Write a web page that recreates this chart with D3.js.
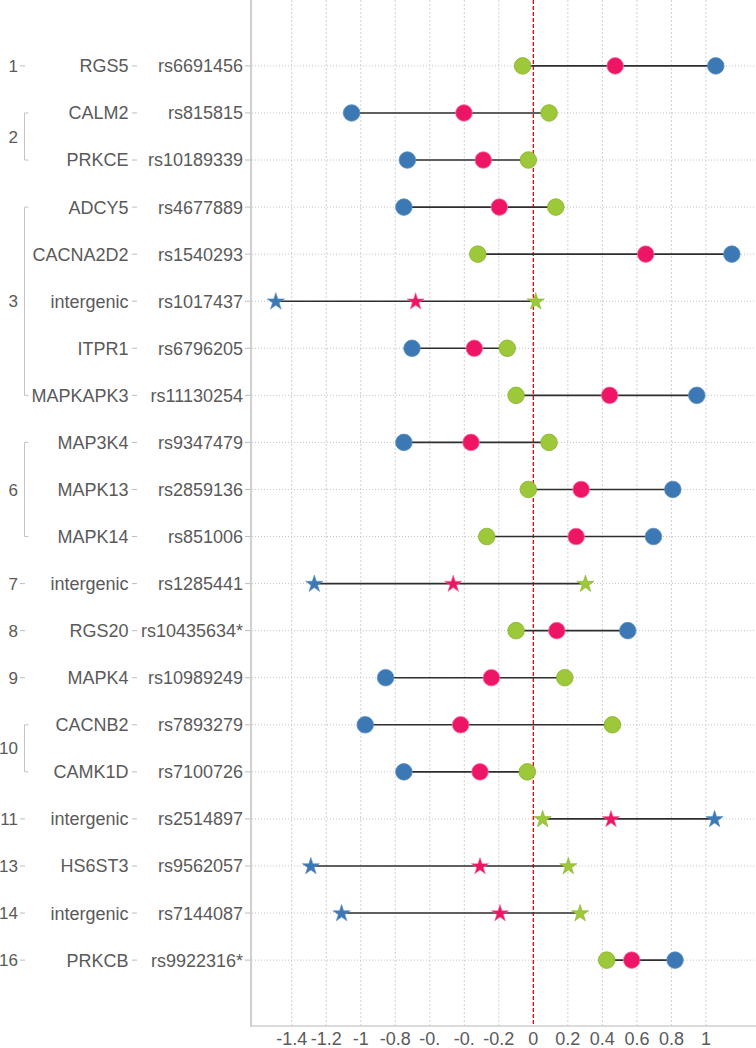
<!DOCTYPE html>
<html>
<head>
<meta charset="utf-8">
<script src="https://cdn.jsdelivr.net/npm/d3@7"></script>
<style>
  html, body { margin: 0; padding: 0; background: #fff; overflow: hidden; }
  svg { display: block; }
  text { font-family: "Liberation Sans", Arial, sans-serif; }
</style>
</head>
<body>
<svg id="chart" width="756" height="1048"></svg>
<script>
// ---- data ----
const chromosomes = ["1","2","2","3","3","3","3","3","6","6","6","7","8","9","10","10","11","13","14","16"];
const genes = ["RGS5","CALM2","PRKCE","ADCY5","CACNA2D2","intergenic","ITPR1","MAPKAPK3","MAP3K4","MAPK13","MAPK14","intergenic","RGS20","MAPK4","CACNB2","CAMK1D","intergenic","HS6ST3","intergenic","PRKCB"];
const snps = ["rs6691456","rs815815","rs10189339","rs4677889","rs1540293","rs1017437","rs6796205","rs11130254","rs9347479","rs2859136","rs851006","rs1285441","rs10435634*","rs10989249","rs7893279","rs7100726","rs2514897","rs9562057","rs7144087","rs9922316*"];
const greenValues = [-0.062, 0.091, -0.029, 0.130, -0.322, 0.014, -0.151, -0.100, 0.091, -0.029, -0.270, 0.302, -0.100, 0.182, 0.458, -0.035, 0.054, 0.203, 0.271, 0.425];
const pinkValues  = [0.474, -0.402, -0.290, -0.197, 0.651, -0.682, -0.342, 0.442, -0.361, 0.277, 0.248, -0.464, 0.136, -0.243, -0.421, -0.309, 0.450, -0.309, -0.193, 0.570];
const blueValues  = [1.057, -1.053, -0.730, -0.750, 1.150, -1.492, -0.703, 0.947, -0.750, 0.808, 0.696, -1.269, 0.547, -0.856, -0.974, -0.750, 1.050, -1.289, -1.111, 0.821];
const markerShapes = ["circle","circle","circle","circle","circle","star","circle","circle","circle","circle","circle","star","circle","circle","circle","circle","star","star","star","circle"];
const xTickValues = [-1.4, -1.2, -1, -0.8, -0.6, -0.4, -0.2, 0, 0.2, 0.4, 0.6, 0.8, 1];
const xTickLabels = ["-1.4","-1.2","-1","-0.8","-0.","-0.","-0.2","0","0.2","0.4","0.6","0.8","1"];

const seriesColors = { green: "#9cc83a", pink: "#ee1566", blue: "#3c79b4" };
const seriesStroke = { green: "#88b22c", pink: "#f4709d", blue: "#5b8fc2" };

// ---- layout ----
const W = 756, H = 1048;
const plotLeft = 252, plotRight = 756, plotTop = 0, plotBottom = 1026;
const textColor = "#5a5a5a";

const svg = d3.select("#chart");
const x = d3.scaleLinear().domain([-1.63, 1.29]).range([plotLeft, plotRight]);
const y = d3.scalePoint().domain(snps).range([plotTop, plotBottom]).padding(1.4);

const rows = snps.map((s, i) => ({
  i, snp: s, gene: genes[i], chr: chromosomes[i], shape: markerShapes[i],
  green: greenValues[i], pink: pinkValues[i], blue: blueValues[i]
}));

// vertical grid
svg.append("g").selectAll("line").data(xTickValues.filter(d => d !== 0)).join("line")
  .attr("x1", d => x(d)).attr("x2", d => x(d))
  .attr("y1", plotTop).attr("y2", plotBottom)
  .attr("stroke", "#d2d2d2").attr("stroke-width", 1)
  .attr("stroke-dasharray", "2,2");

// horizontal grid
svg.append("g").selectAll("line").data(rows).join("line")
  .attr("x1", plotLeft).attr("x2", plotRight)
  .attr("y1", d => y(d.snp)).attr("y2", d => y(d.snp))
  .attr("stroke", "#c4c4c4").attr("stroke-width", 1)
  .attr("stroke-dasharray", "1,2");

// zero line
svg.append("line")
  .attr("x1", x(0)).attr("x2", x(0)).attr("y1", plotTop).attr("y2", plotBottom)
  .attr("stroke", "#ff0000").attr("stroke-width", 1.3).attr("stroke-dasharray", "4,2");

// axes lines
svg.append("line").attr("x1", plotLeft - 1).attr("x2", plotLeft - 1)
  .attr("y1", plotTop).attr("y2", plotBottom + 1)
  .attr("stroke", "#cfcfcf").attr("stroke-width", 2);
svg.append("line").attr("x1", plotLeft - 2).attr("x2", plotRight)
  .attr("y1", plotBottom).attr("y2", plotBottom)
  .attr("stroke", "#cfcfcf").attr("stroke-width", 1.5);

// x tick labels
svg.append("g").selectAll("text").data(xTickValues).join("text")
  .attr("x", d => x(d)).attr("y", plotBottom + 19)
  .attr("text-anchor", "middle")
  .attr("font-size", 18).attr("fill", textColor)
  .text((d, i) => xTickLabels[i]);

// y labels: snps
const yl = svg.append("g");
yl.selectAll("text.snp").data(rows).join("text").attr("class", "snp")
  .attr("x", 243).attr("y", d => y(d.snp)).attr("dy", "0.36em")
  .attr("text-anchor", "end").attr("font-size", 18).attr("fill", textColor)
  .text(d => d.snp);
yl.selectAll("line.snptick").data(rows).join("line").attr("class", "snptick")
  .attr("x1", 245).attr("x2", 250).attr("y1", d => y(d.snp)).attr("y2", d => y(d.snp))
  .attr("stroke", "#bdbdbd").attr("stroke-width", 1);

// genes
yl.selectAll("text.gene").data(rows).join("text").attr("class", "gene")
  .attr("x", 128.5).attr("y", d => y(d.snp)).attr("dy", "0.36em")
  .attr("text-anchor", "end").attr("font-size", 18).attr("fill", textColor)
  .text(d => d.gene);
yl.selectAll("line.genetick").data(rows).join("line").attr("class", "genetick")
  .attr("x1", 132).attr("x2", 137).attr("y1", d => y(d.snp)).attr("y2", d => y(d.snp))
  .attr("stroke", "#bdbdbd").attr("stroke-width", 1);

// chromosome groups
const groups = [];
rows.forEach(r => {
  const last = groups[groups.length - 1];
  if (last && last.chr === r.chr) last.rows.push(r);
  else groups.push({ chr: r.chr, rows: [r] });
});
groups.forEach(g => {
  const y0 = y(g.rows[0].snp), y1 = y(g.rows[g.rows.length - 1].snp);
  const ym = (y0 + y1) / 2;
  yl.append("text").attr("x", 18).attr("y", ym).attr("dy", "0.36em")
    .attr("text-anchor", "end").attr("font-size", 17).attr("fill", textColor)
    .text(g.chr);
  if (g.rows.length === 1) {
    yl.append("line").attr("x1", 20).attr("x2", 25).attr("y1", ym).attr("y2", ym)
      .attr("stroke", "#bdbdbd").attr("stroke-width", 1);
  } else {
    yl.append("path")
      .attr("d", `M28.5,${y0}H24.5V${y1}H28.5`)
      .attr("fill", "none").attr("stroke", "#c4c4c4").attr("stroke-width", 1);
  }
});

// connecting lines
svg.append("g").selectAll("line").data(rows).join("line")
  .attr("x1", d => x(Math.min(d.green, d.pink, d.blue)))
  .attr("x2", d => x(Math.max(d.green, d.pink, d.blue)))
  .attr("y1", d => y(d.snp)).attr("y2", d => y(d.snp))
  .attr("stroke", "#2e2e2e").attr("stroke-width", 1.6);

// markers
const star = d3.symbol().type(d3.symbolStar).size(92)();
const mg = svg.append("g");
["green", "pink", "blue"].forEach(key => {
  rows.forEach(r => {
    const cx = x(r[key]), cy = y(r.snp);
    if (r.shape === "circle") {
      mg.append("circle").attr("cx", cx).attr("cy", cy).attr("r", 8.3)
        .attr("fill", seriesColors[key]).attr("stroke", seriesStroke[key]).attr("stroke-width", 0.8);
    } else {
      mg.append("path").attr("d", star).attr("transform", `translate(${cx},${cy + 0.5})`)
        .attr("fill", seriesColors[key]).attr("stroke", seriesStroke[key]).attr("stroke-width", 0.6);
    }
  });
});
</script>
</body>
</html>
